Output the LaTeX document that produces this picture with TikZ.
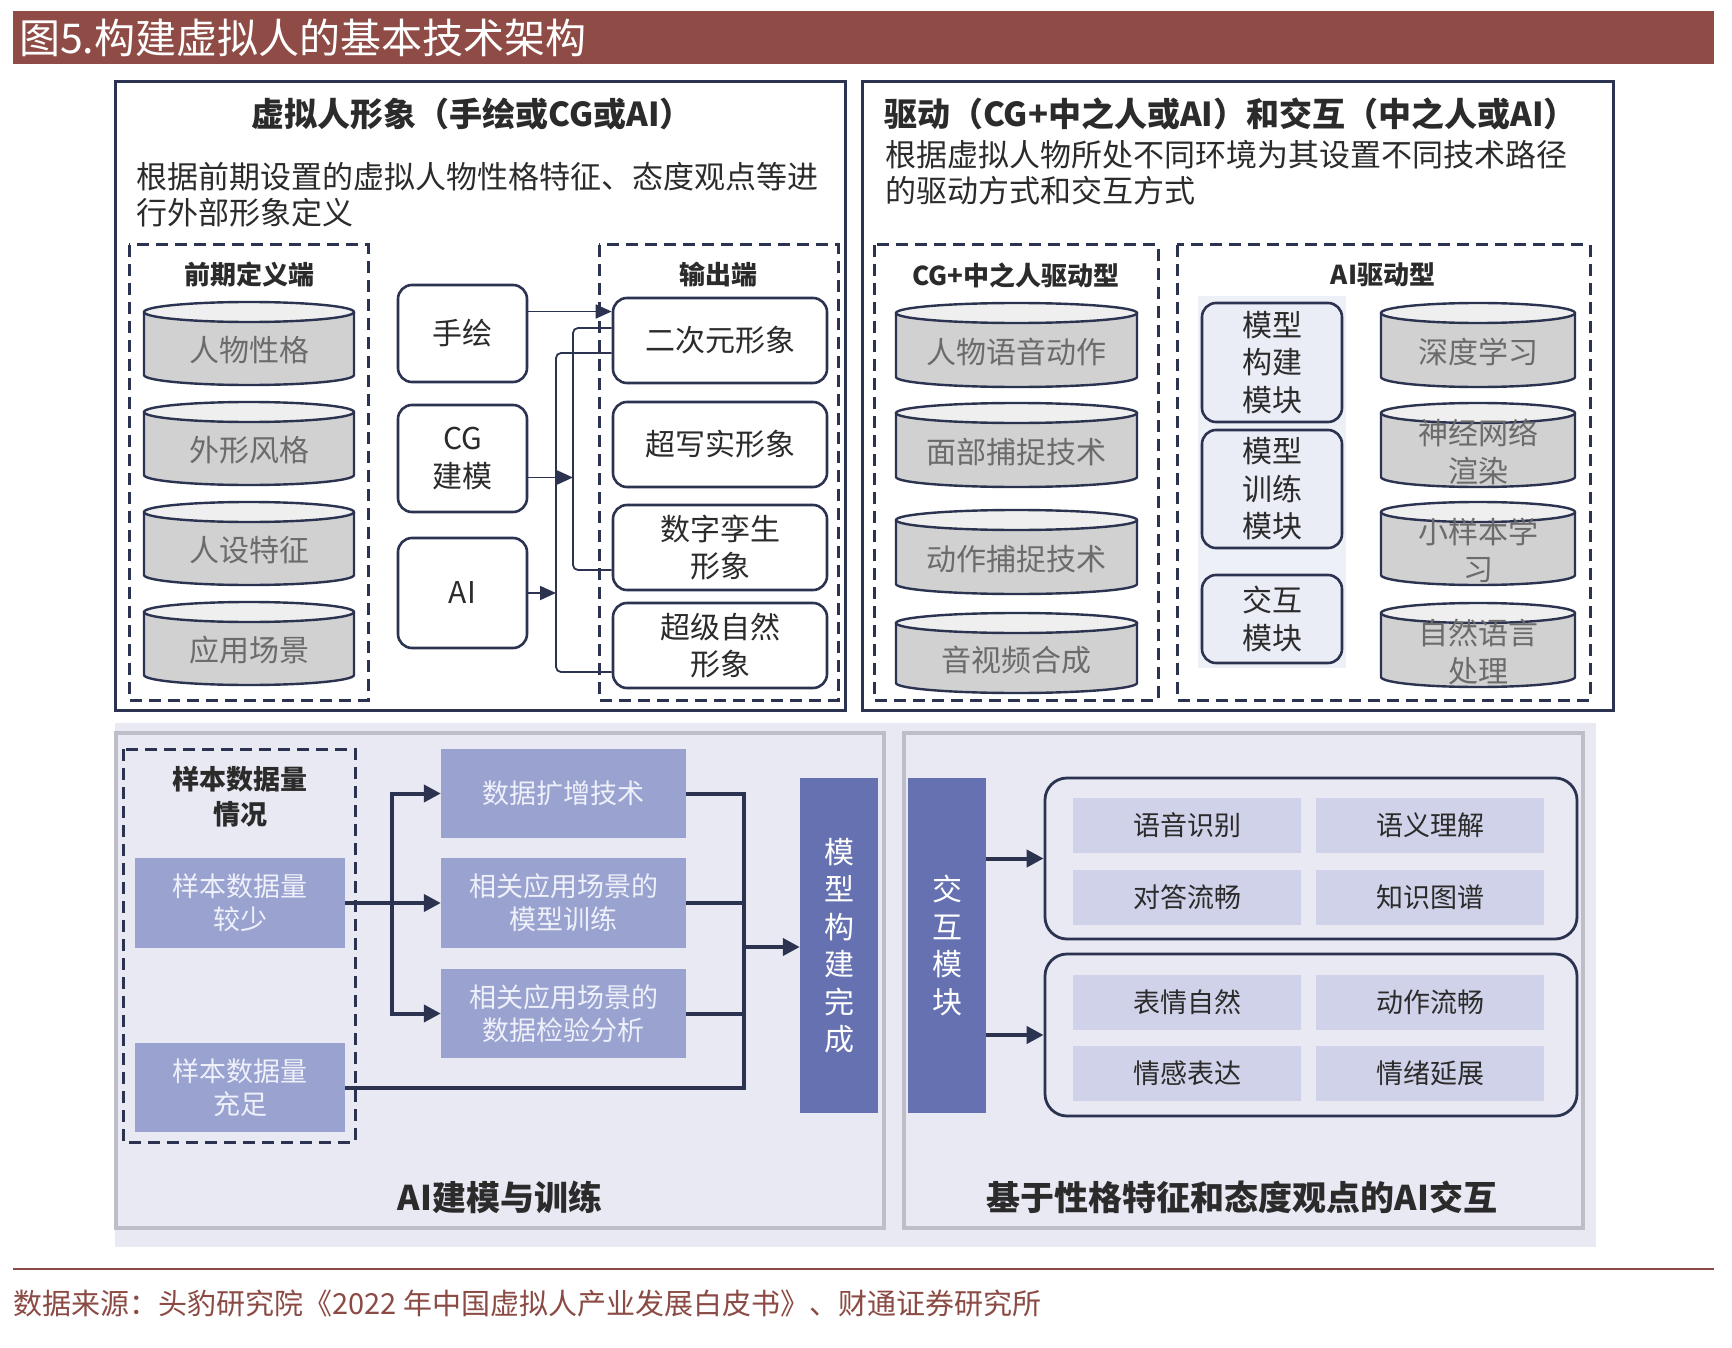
\documentclass[tikz,border=0pt]{standalone}
\usepackage{fontspec}
\setmainfont{Noto Sans CJK SC}
\usetikzlibrary{arrows.meta}
\definecolor{navy}{HTML}{2C3350}
\definecolor{titlebar}{HTML}{8F4C46}
\definecolor{footc}{HTML}{8B4A44}
\definecolor{cylbody}{HTML}{D1D1D1}
\definecolor{cyltop}{HTML}{EFEFEF}
\definecolor{cyltxt}{HTML}{6B6B6B}
\definecolor{modfill}{HTML}{EAECF6}
\definecolor{stripc}{HTML}{EEF0F7}
\definecolor{lav}{HTML}{E8E9F3}
\definecolor{panelc}{HTML}{BDBEC8}
\definecolor{midblue}{HTML}{9AA3D0}
\definecolor{midtxt}{HTML}{EEF0FA}
\definecolor{darkblue}{HTML}{6571B1}
\definecolor{cellc}{HTML}{CFD2E8}
\definecolor{txtdark}{HTML}{2B2B2B}
\newcommand\myfs[2]{\fontsize{#1}{#2}\selectfont}
\def\cylry{10}
\tikzset{
  bigframe/.style={draw=navy,line width=3pt},
  dashframe/.style={draw=navy,line width=3pt,dash pattern=on 12pt off 7pt},
  rbox/.style={draw=navy,line width=2.6pt,rounded corners=14pt,fill=white,align=center,text=txtdark,font=\myfs{30}{37.5},inner sep=0pt},
  modbox/.style={rbox,fill=modfill},
  cyltext/.style={align=center,text=cyltxt,font=\myfs{30}{37.5},inner sep=0pt},
  cylline/.style={draw=navy,line width=2.4pt},
  headb/.style={font=\bfseries\myfs{33}{40},text=txtdark,inner sep=0pt},
  desc/.style={font=\myfs{31}{36},text=txtdark,align=left,inner sep=0pt},
  seclab/.style={font=\bfseries\myfs{26}{33},text=txtdark,align=center,inner sep=0pt},
  thinl/.style={draw=navy,line width=1.8pt},
  arrthin/.style={thinl,-{Triangle[length=16pt,width=14pt]}},
  thk/.style={draw=navy,line width=4pt},
  thkarr/.style={thk,-{Triangle[length=17pt,width=17pt]}},
  panel/.style={draw=panelc,line width=4pt},
  midbox/.style={fill=midblue,text=midtxt,align=center,font=\myfs{27}{33},inner sep=0pt},
  darkbox/.style={fill=darkblue,text=white,align=center,font=\myfs{30}{37.5},inner sep=0pt},
  grpframe/.style={draw=navy,line width=2.8pt,rounded corners=22pt},
  cell/.style={fill=cellc,text=txtdark,font=\myfs{27}{33},minimum width=228pt,minimum height=55pt,inner sep=0pt},
  botlab/.style={font=\bfseries\myfs{34}{40},text=txtdark,inner sep=0pt},
}
% name, cx, cy (downwards), width, height, text
\newcommand\mycyl[6]{%
  \pgfmathsetmacro\myL{#2-#4/2}\pgfmathsetmacro\myR{#2+#4/2}%
  \pgfmathsetmacro\myT{-(#3-#5/2)-\cylry}\pgfmathsetmacro\myB{-(#3+#5/2)+\cylry}%
  \pgfmathsetmacro\myrx{#4/2}\pgfmathsetmacro\myTy{-(#3+7)}%
  \fill[cylbody] (\myL,\myT) -- (\myL,\myB) arc[start angle=180,end angle=360,x radius=\myrx pt,y radius=\cylry pt] -- (\myR,\myT) -- cycle;
  \draw[cylline] (\myL,\myT) -- (\myL,\myB) arc[start angle=180,end angle=360,x radius=\myrx pt,y radius=\cylry pt] -- (\myR,\myT);
  \draw[cylline,fill=cyltop] (#2,\myT) ellipse[x radius=\myrx pt,y radius=\cylry pt];
  \node[cyltext] (#1) at (#2,\myTy) {#6};
}
\begin{document}
\begin{tikzpicture}[x=1pt,y=1pt]
\useasboundingbox (0,0) rectangle (1732,-1348);
\fill[white] (0,0) rectangle (1732,-1348);

% title bar
\fill[titlebar] (13,-11) rectangle (1714,-64);
\node[anchor=west,text=white,font=\myfs{41}{41},inner sep=0pt] (ttl) at (19,-38) {图5.构建虚拟人的基本技术架构};

% ===== top frames =====
\draw[bigframe] (115,-82) rectangle (845,-710);
\draw[bigframe] (862,-82) rectangle (1613,-710);

\node[headb] (h1) at (472,-114) {虚拟人形象（手绘或CG或AI）};
\node[desc,anchor=west] (d1) at (136,-195) {根据前期设置的虚拟人物性格特征、态度观点等进\\行外部形象定义};
\node[headb,anchor=west] (h2) at (884,-114) {驱动（CG+中之人或AI）和交互（中之人或AI）};
\node[desc,anchor=west] (d2) at (885,-173) {根据虚拟人物所处不同环境为其设置不同技术路径\\的驱动方式和交互方式};

% dashed groups
\draw[dashframe] (129,-245) rectangle (368,-700);
\draw[dashframe] (599,-245) rectangle (838,-700);
\draw[dashframe] (874,-245) rectangle (1158,-700);
\draw[dashframe] (1177,-245) rectangle (1590,-700);
\node[seclab] (l1) at (249,-275) {前期定义端};
\node[seclab] (l2) at (718,-275) {输出端};
\node[seclab] (l3) at (1016,-275) {CG+中之人驱动型};
\node[seclab] (l4) at (1383,-275) {AI驱动型};

% left cylinders
\mycyl{c1}{249}{343.5}{210}{83}{人物性格}
\mycyl{c2}{249}{443.5}{210}{83}{外形风格}
\mycyl{c3}{249}{543.5}{210}{83}{人设特征}
\mycyl{c4}{249}{643.5}{210}{83}{应用场景}

% middle boxes
\node[rbox,minimum width=129pt,minimum height=97pt] (sh) at (462.5,-333.5) {手绘};
\node[rbox,minimum width=129pt,minimum height=107pt] (cg) at (462.5,-458.5) {CG\\建模};
\node[rbox,minimum width=129pt,minimum height=110pt] (ai) at (462.5,-593) {AI};

% output boxes
\node[rbox,minimum width=214pt,minimum height=85pt] (o1) at (720,-340.5) {二次元形象};
\node[rbox,minimum width=214pt,minimum height=85pt] (o2) at (720,-444.5) {超写实形象};
\node[rbox,minimum width=214pt,minimum height=85pt] (o3) at (720,-547.5) {数字孪生\\形象};
\node[rbox,minimum width=214pt,minimum height=85pt] (o4) at (720,-645.5) {超级自然\\形象};

% connectors
\coordinate (shA) at ([yshift=22pt]sh.east);
\draw[arrthin] (shA) -- (shA -| o1.west);
\coordinate (v1t) at (573,-328);
\coordinate (v1b) at (573,-570);
\draw[thinl,rounded corners=5pt] (v1t -| o1.west) -- (v1t) -- (v1b) -- (v1b -| o3.west);
\coordinate (cgA) at ([yshift=-19pt]cg.east);
\draw[arrthin] (cgA) -- (cgA -| v1t);
\coordinate (v2t) at (556,-353);
\coordinate (v2b) at (556,-672);
\draw[thinl,rounded corners=5pt] (v2t -| o1.west) -- (v2t) -- (v2b) -- (v2b -| o4.west);
\draw[arrthin] (ai.east) -- (ai.east -| v2t);

% CG+ cylinders
\mycyl{d1c}{1016.5}{345}{241}{84}{人物语音动作}
\mycyl{d2c}{1016.5}{445}{241}{84}{面部捕捉技术}
\mycyl{d3c}{1016.5}{552}{241}{84}{动作捕捉技术}
\mycyl{d4c}{1016.5}{653}{241}{80}{音视频合成}

% AI driven
\fill[stripc] (1198,-296) rectangle (1346,-668);
\node[modbox,minimum width=140pt,minimum height=119pt] (m1) at (1272,-362.5) {模型\\构建\\模块};
\node[modbox,minimum width=140pt,minimum height=118pt] (m2) at (1272,-489) {模型\\训练\\模块};
\node[modbox,minimum width=140pt,minimum height=88pt] (m3) at (1272,-619) {交互\\模块};
\mycyl{a1}{1478}{345}{194}{84}{深度学习}
\mycyl{a2}{1478}{445}{194}{84}{神经网络\\渲染}
\mycyl{a3}{1478}{543.5}{194}{83}{小样本学\\习}
\mycyl{a4}{1478}{645}{194}{84}{自然语言\\处理}

% ===== bottom =====
\fill[lav] (115,-723) rectangle (1596,-1247);
\draw[panel] (116,-733) rectangle (884,-1228);
\draw[panel] (904,-733) rectangle (1583,-1228);

\draw[dashframe] (123,-749) rectangle (355,-1142);
\node[seclab,font=\bfseries\myfs{27}{35}] (lq) at (240,-797) {样本数据量\\情况};
\node[midbox,minimum width=210pt,minimum height=90pt] (few) at (240,-903) {样本数据量\\较少};
\node[midbox,minimum width=210pt,minimum height=89pt] (enough) at (240,-1087.5) {样本数据量\\充足};
\node[midbox,minimum width=245pt,minimum height=89pt] (kz) at (563.5,-793.5) {数据扩增技术};
\node[midbox,minimum width=245pt,minimum height=90pt] (xl) at (563.5,-903) {相关应用场景的\\模型训练};
\node[midbox,minimum width=245pt,minimum height=89pt] (jy) at (563.5,-1013.5) {相关应用场景的\\数据检验分析};
\node[darkbox,minimum width=78pt,minimum height=335pt] (done) at (839,-945.5) {模\\型\\构\\建\\完\\成};

\coordinate (jL) at (392,-903);
\draw[thk] (few.east) -- (jL);
\draw[thkarr] (jL) |- (kz.west);
\draw[thkarr] (jL) -- (xl.west);
\draw[thkarr] (jL) |- (jy.west);
\coordinate (jR) at (744,-947);
\draw[thk] (kz.east) -- (kz.east -| jR) -- (jR |- enough.east) -- (enough.east);
\draw[thk] (xl.east) -- (xl.east -| jR);
\draw[thk] (jy.east) -- (jy.east -| jR);
\draw[thkarr] (jR) -- (jR -| done.west);

\node[botlab] (lab1) at (500,-1197) {AI建模与训练};

% right bottom panel
\node[darkbox,minimum width=78pt,minimum height=335pt] (jh) at (947,-945.5) {交\\互\\模\\块};
\node[grpframe,minimum width=532pt,minimum height=161pt] (upf) at (1311,-858.5) {};
\node[grpframe,minimum width=532pt,minimum height=162pt] (lof) at (1311,-1035) {};
\node[cell] (g1) at (1187,-825.5) {语音识别};
\node[cell] (g2) at (1430,-825.5) {语义理解};
\node[cell] (g3) at (1187,-897) {对答流畅};
\node[cell] (g4) at (1430,-897) {知识图谱};
\node[cell] (g5) at (1187,-1002.5) {表情自然};
\node[cell] (g6) at (1430,-1002.5) {动作流畅};
\node[cell] (g7) at (1187,-1073.5) {情感表达};
\node[cell] (g8) at (1430,-1073.5) {情绪延展};
\draw[thkarr] (jh.east |- upf.west) -- (upf.west);
\draw[thkarr] (jh.east |- lof.west) -- (lof.west);

\node[botlab] (lab2) at (1242,-1197) {基于性格特征和态度观点的AI交互};

% footer
\draw[footc,line width=2pt] (13,-1269) -- (1714,-1269);
\node[anchor=west,text=footc,font=\myfs{29}{29},inner sep=0pt] (src) at (13,-1303) {数据来源：头豹研究院《2022 年中国虚拟人产业发展白皮书》、财通证券研究所};
\end{tikzpicture}
\end{document}
